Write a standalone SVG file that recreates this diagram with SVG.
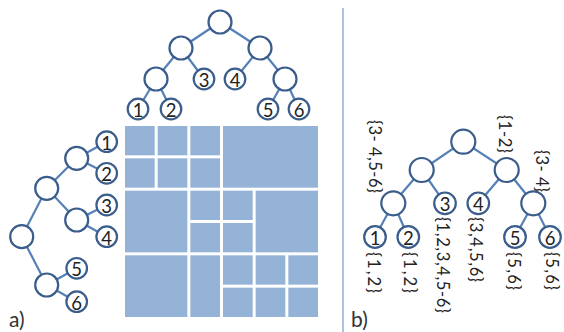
<svg xmlns="http://www.w3.org/2000/svg" width="564" height="332" viewBox="0 0 564 332">
  <style>
    .edge { stroke: #5580b8; stroke-width: 2.2; fill: none; }
    .node { fill: #ffffff; stroke: #3a5d8b; stroke-width: 2.2; }
    .num { font-family: Lato, "Liberation Sans", sans-serif; font-size: 18.5px; fill: #222; text-anchor: middle; dominant-baseline: central; }
    .set { font-family: Lato, "Liberation Sans", sans-serif; font-size: 16.5px; fill: #222; dominant-baseline: central; }
    .cap { font-family: Lato, "Liberation Sans", sans-serif; font-size: 21px; fill: #333; }
    .cell { fill: #95b3d7; }
  </style>

  <rect width="564" height="332" fill="#ffffff"/>

  <!-- divider between panels -->
  <line x1="343" y1="8" x2="343" y2="332" stroke="#8fb0d6" stroke-width="1.5"/>

  <!-- block matrix -->
  <g id="matrix">
    <rect class="cell" x="125" y="126" width="29.67" height="29.33"/>
    <rect class="cell" x="157.67" y="126" width="29.67" height="29.33"/>
    <rect class="cell" x="190.33" y="126" width="29.67" height="29.33"/>
    <rect class="cell" x="223" y="126" width="95" height="61.67"/>
    <rect class="cell" x="125" y="158.33" width="29.67" height="29.33"/>
    <rect class="cell" x="157.67" y="158.33" width="29.67" height="29.33"/>
    <rect class="cell" x="190.33" y="158.33" width="29.67" height="29.33"/>
    <rect class="cell" x="125" y="190.67" width="62.33" height="61.67"/>
    <rect class="cell" x="190.33" y="190.67" width="29.67" height="29.33"/>
    <rect class="cell" x="223" y="190.67" width="29.67" height="29.33"/>
    <rect class="cell" x="190.33" y="223" width="29.67" height="29.33"/>
    <rect class="cell" x="223" y="223" width="29.67" height="29.33"/>
    <rect class="cell" x="255.67" y="190.67" width="62.33" height="61.67"/>
    <rect class="cell" x="125" y="255.33" width="62.33" height="61.67"/>
    <rect class="cell" x="190.33" y="255.33" width="29.67" height="61.67"/>
    <rect class="cell" x="223" y="255.33" width="29.67" height="29.33"/>
    <rect class="cell" x="255.67" y="255.33" width="29.67" height="29.33"/>
    <rect class="cell" x="288.33" y="255.33" width="29.67" height="29.33"/>
    <rect class="cell" x="223" y="287.67" width="29.67" height="29.33"/>
    <rect class="cell" x="255.67" y="287.67" width="29.67" height="29.33"/>
    <rect class="cell" x="288.33" y="287.67" width="29.67" height="29.33"/>
  </g>

  <!-- connectors -->
  <g id="connectors">
    <!-- top tree -->
    <line class="edge" x1="220" y1="22" x2="181" y2="48"/>
    <line class="edge" x1="220" y1="22" x2="260" y2="48"/>
    <line class="edge" x1="181" y1="48" x2="156" y2="79"/>
    <line class="edge" x1="181" y1="48" x2="204" y2="79"/>
    <line class="edge" x1="260" y1="48" x2="235" y2="79"/>
    <line class="edge" x1="260" y1="48" x2="285" y2="79"/>
    <line class="edge" x1="156" y1="79" x2="138" y2="109"/>
    <line class="edge" x1="156" y1="79" x2="171" y2="109"/>
    <line class="edge" x1="285" y1="79" x2="268" y2="109"/>
    <line class="edge" x1="285" y1="79" x2="299" y2="109"/>
    <!-- left tree -->
    <line class="edge" x1="21.7" y1="236.7" x2="46.7" y2="188.3"/>
    <line class="edge" x1="21.7" y1="236.7" x2="46.7" y2="285"/>
    <line class="edge" x1="46.7" y1="188.3" x2="76.7" y2="158.3"/>
    <line class="edge" x1="46.7" y1="188.3" x2="76.7" y2="220"/>
    <line class="edge" x1="76.7" y1="158.3" x2="106.7" y2="141.7"/>
    <line class="edge" x1="76.7" y1="158.3" x2="106.7" y2="173.3"/>
    <line class="edge" x1="76.7" y1="220" x2="106.7" y2="205"/>
    <line class="edge" x1="76.7" y1="220" x2="106.7" y2="236.7"/>
    <line class="edge" x1="46.7" y1="285" x2="76.7" y2="268.3"/>
    <line class="edge" x1="46.7" y1="285" x2="76.7" y2="301.7"/>
    <!-- right tree -->
    <line class="edge" x1="463.3" y1="141.7" x2="421.7" y2="170"/>
    <line class="edge" x1="463.3" y1="141.7" x2="506.7" y2="170"/>
    <line class="edge" x1="421.7" y1="170" x2="393.3" y2="203.3"/>
    <line class="edge" x1="421.7" y1="170" x2="445" y2="203.3"/>
    <line class="edge" x1="506.7" y1="170" x2="478.3" y2="203.3"/>
    <line class="edge" x1="506.7" y1="170" x2="533.3" y2="203.3"/>
    <line class="edge" x1="393.3" y1="203.3" x2="375" y2="237"/>
    <line class="edge" x1="393.3" y1="203.3" x2="408.3" y2="237"/>
    <line class="edge" x1="533.3" y1="203.3" x2="515" y2="237"/>
    <line class="edge" x1="533.3" y1="203.3" x2="550" y2="237"/>
  </g>

  <!-- top tree nodes -->
  <g id="top-root"><circle class="node" cx="220" cy="22" r="11.5"/></g>
  <g id="top-a"><circle class="node" cx="181" cy="48" r="11.5"/></g>
  <g id="top-b"><circle class="node" cx="260" cy="48" r="11.5"/></g>
  <g id="top-c"><circle class="node" cx="156" cy="79" r="11.5"/></g>
  <g id="top-d"><circle class="node" cx="285" cy="79" r="11.5"/></g>
  <g id="top-3"><circle class="node" cx="204" cy="79" r="10.3"/><text class="num" x="204" y="80">3</text></g>
  <g id="top-4"><circle class="node" cx="235" cy="79" r="10.3"/><text class="num" x="235" y="80">4</text></g>
  <g id="top-1"><circle class="node" cx="138" cy="109" r="10.3"/><text class="num" x="138" y="110">1</text></g>
  <g id="top-2"><circle class="node" cx="171" cy="109" r="10.3"/><text class="num" x="171" y="110">2</text></g>
  <g id="top-5"><circle class="node" cx="268" cy="109" r="10.3"/><text class="num" x="268" y="110">5</text></g>
  <g id="top-6"><circle class="node" cx="299" cy="109" r="10.3"/><text class="num" x="299" y="110">6</text></g>

  <!-- left tree nodes -->
  <g id="left-root"><circle class="node" cx="21.7" cy="236.7" r="11.5"/></g>
  <g id="left-a"><circle class="node" cx="46.7" cy="188.3" r="11.5"/></g>
  <g id="left-b"><circle class="node" cx="46.7" cy="285" r="11.5"/></g>
  <g id="left-c"><circle class="node" cx="76.7" cy="158.3" r="11.5"/></g>
  <g id="left-d"><circle class="node" cx="76.7" cy="220" r="11.5"/></g>
  <g id="left-1"><circle class="node" cx="106.7" cy="141.7" r="10.3"/><text class="num" x="106.7" y="142.7">1</text></g>
  <g id="left-2"><circle class="node" cx="106.7" cy="173.3" r="10.3"/><text class="num" x="106.7" y="174.3">2</text></g>
  <g id="left-3"><circle class="node" cx="106.7" cy="205" r="10.3"/><text class="num" x="106.7" y="206">3</text></g>
  <g id="left-4"><circle class="node" cx="106.7" cy="236.7" r="10.3"/><text class="num" x="106.7" y="237.7">4</text></g>
  <g id="left-5"><circle class="node" cx="76.7" cy="268.3" r="10.3"/><text class="num" x="76.7" y="269.3">5</text></g>
  <g id="left-6"><circle class="node" cx="76.7" cy="301.7" r="10.3"/><text class="num" x="76.7" y="302.7">6</text></g>

  <!-- right tree nodes -->
  <g id="right-root"><circle class="node" cx="463.3" cy="141.7" r="12"/></g>
  <g id="right-a"><circle class="node" cx="421.7" cy="170" r="12"/></g>
  <g id="right-b"><circle class="node" cx="506.7" cy="170" r="12"/></g>
  <g id="right-c"><circle class="node" cx="393.3" cy="203.3" r="12"/></g>
  <g id="right-d"><circle class="node" cx="533.3" cy="203.3" r="12"/></g>
  <g id="right-3"><circle class="node" cx="445" cy="203.3" r="10.8"/><text class="num" x="445" y="204.3">3</text></g>
  <g id="right-4"><circle class="node" cx="478.3" cy="203.3" r="10.8"/><text class="num" x="478.3" y="204.3">4</text></g>
  <g id="right-1"><circle class="node" cx="375" cy="237" r="10.8"/><text class="num" x="375" y="238">1</text></g>
  <g id="right-2"><circle class="node" cx="408.3" cy="237" r="10.8"/><text class="num" x="408.3" y="238">2</text></g>
  <g id="right-5"><circle class="node" cx="515" cy="237" r="10.8"/><text class="num" x="515" y="238">5</text></g>
  <g id="right-6"><circle class="node" cx="550" cy="237" r="10.8"/><text class="num" x="550" y="238">6</text></g>

  <!-- vertical set labels -->
  <g id="set-labels">
    <text class="set" transform="translate(375,120) rotate(90)" textLength="73" lengthAdjust="spacing">{3- 4,5-6}</text>
    <text class="set" transform="translate(505,115) rotate(90)" textLength="38" lengthAdjust="spacing">{1-2}</text>
    <text class="set" transform="translate(542,150) rotate(90)" textLength="42" lengthAdjust="spacing">{3- 4}</text>
    <text class="set" transform="translate(374,252) rotate(90)" textLength="41" lengthAdjust="spacing">{1,2}</text>
    <text class="set" transform="translate(410,252) rotate(90)" textLength="41" lengthAdjust="spacing">{1,2}</text>
    <text class="set" transform="translate(443,217) rotate(90)" textLength="96" lengthAdjust="spacing">{1,2,3,4,5-6}</text>
    <text class="set" transform="translate(476,217) rotate(90)" textLength="65" lengthAdjust="spacing">{3,4,5,6}</text>
    <text class="set" transform="translate(514,252) rotate(90)" textLength="38" lengthAdjust="spacing">{5,6}</text>
    <text class="set" transform="translate(552,252) rotate(90)" textLength="38" lengthAdjust="spacing">{5,6}</text>
  </g>

  <!-- panel captions -->
  <text class="cap" x="9" y="327">a)</text>
  <text class="cap" x="351" y="327">b)</text>
</svg>
